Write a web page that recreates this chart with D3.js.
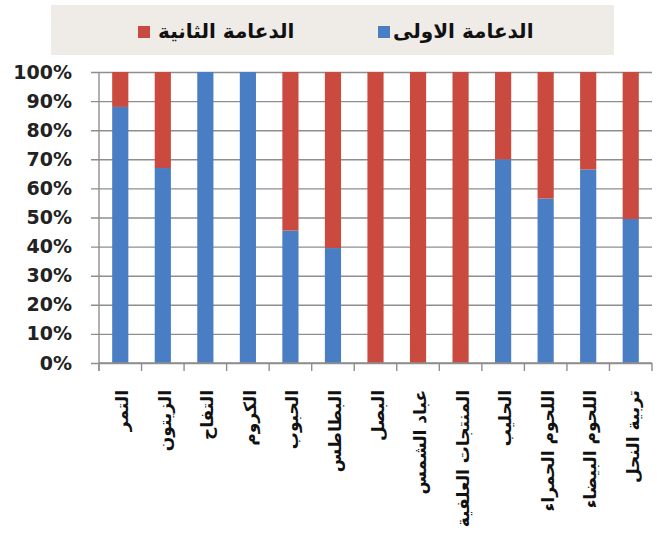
<!DOCTYPE html>
<html><head><meta charset="utf-8">
<script src="https://cdn.jsdelivr.net/npm/d3@7"></script>
<style>body{margin:0;background:#fff}svg{display:block}</style>
</head><body>
<svg id="c" width="663" height="538"></svg>
<script>
const categories = ["التمر","الزيتون","التفاح","الكروم","الحبوب","البطاطس","البصل","عباد الشمس","المنتجات العلفية","الحليب","اللحوم الحمراء","اللحوم البيضاء","تربية النحل"];
const firstSupport = [88, 67, 100, 100, 45.5, 39.5, 0, 0, 0, 70, 56.5, 66.5, 49.5];
const secondSupport = [12, 33, 0, 0, 54.5, 60.5, 100, 100, 100, 30, 43.5, 33.5, 50.5];
const seriesNames = ["الدعامة الاولى","الدعامة الثانية"];
const yTicks = [0,0.1,0.2,0.3,0.4,0.5,0.6,0.7,0.8,0.9,1];

const colors = ["#4A7EC4","#CB4A3F"];
const svg = d3.select("#c");
const L = 99, R = 652, T = 72, B = 363;

const rows = categories.map((c,i)=>({cat:c, a:firstSupport[i], b:secondSupport[i]}));
const stack = d3.stack().keys(["a","b"]).offset(d3.stackOffsetExpand);
const series = stack(rows);

const x = d3.scaleBand().domain(categories).range([L,R]).paddingInner(0.62).paddingOuter(0.31);
const y = d3.scaleLinear().domain([0,1]).range([B,T]);

// legend
svg.append("rect").attr("x",51).attr("y",5).attr("width",563).attr("height",50).attr("fill","#EFECE8");
const leg = [{sx:378, tx:393, i:0},{sx:138, tx:158, i:1}];
leg.forEach(l=>{
  svg.append("rect").attr("x",l.sx).attr("y",26).attr("width",12).attr("height",12).attr("fill",colors[l.i]);
  svg.append("text").attr("x",l.tx).attr("y",31).attr("dominant-baseline","central")
    .attr("font-family","DejaVu Sans").attr("font-weight","bold").attr("font-size",20)
    .attr("fill","#111").attr("text-anchor","start").attr("direction","ltr").text(seriesNames[l.i]);
});

// gridlines
const yAxis = d3.axisLeft(y).tickValues(yTicks).tickSize(-(R-L)).tickPadding(27).tickFormat(d3.format(".0%"));
const ga = svg.append("g").attr("transform",`translate(${L},0)`).call(yAxis);
ga.select(".domain").remove();
ga.selectAll(".tick line").attr("stroke","#8E8E8E").attr("stroke-width",1.4).attr("x1",-8);
ga.selectAll(".tick text").attr("font-family","DejaVu Sans").attr("font-weight","bold").attr("font-size",19).attr("fill","#222");

// bars
svg.append("g").selectAll("g").data(series).join("g").attr("fill",(d,i)=>colors[i])
  .selectAll("rect").data(d=>d).join("rect")
  .attr("x",d=>x(d.data.cat)).attr("width",x.bandwidth())
  .attr("y",d=>y(d[1])).attr("height",d=>y(d[0])-y(d[1]));

// y axis line
svg.append("line").attr("x1",L).attr("x2",L).attr("y1",T).attr("y2",B+8).attr("stroke","#8E8E8E").attr("stroke-width",1.4);

// x axis
const step = x.step();
const boundaries = d3.range(categories.length+1).map(i=>L + i*step);
svg.append("line").attr("x1",L).attr("x2",R).attr("y1",B).attr("y2",B).attr("stroke","#8E8E8E").attr("stroke-width",1.4);
svg.append("g").selectAll("line").data(boundaries).join("line")
  .attr("x1",d=>d).attr("x2",d=>d).attr("y1",B).attr("y2",B+8).attr("stroke","#8E8E8E").attr("stroke-width",1.4);

svg.append("g").selectAll("text").data(categories).join("text")
  .attr("transform",d=>`translate(${x(d)+x.bandwidth()/2+2},390) rotate(-90)`)
  .attr("text-anchor","end").attr("direction","ltr").attr("dominant-baseline","central")
  .attr("font-family","DejaVu Sans").attr("font-weight","bold").attr("font-size",17).attr("fill","#111")
  .text(d=>d);
</script>
</body></html>
